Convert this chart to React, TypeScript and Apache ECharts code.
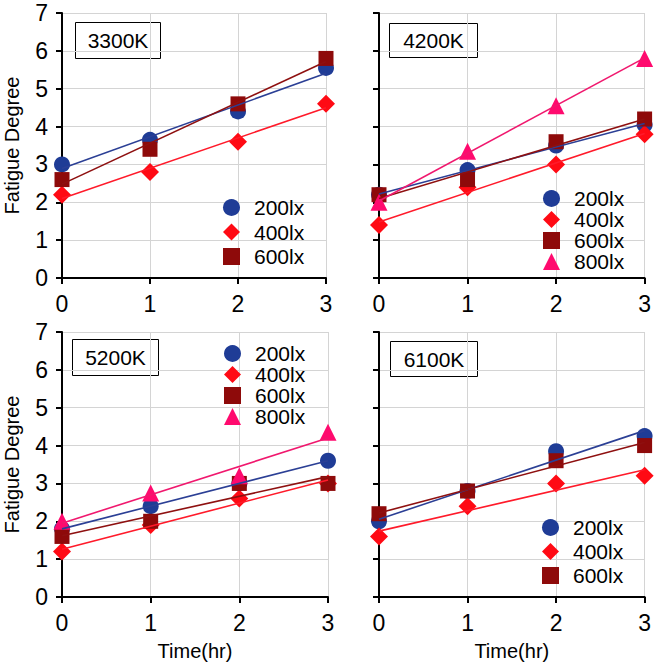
import React, { useEffect, useRef } from "react";
import * as echarts from "echarts";

const hours = [0, 1, 2, 3];
const yTicks = [0, 1, 2, 3, 4, 5, 6, 7];
const panelTitles = ["3300K", "4200K", "5200K", "6100K"];
const seriesNames = ["200lx", "400lx", "600lx", "800lx"];

const k3300_200 = [3.0, 3.65, 4.4, 5.55];
const k3300_400 = [2.2, 2.8, 3.6, 4.6];
const k3300_600 = [2.6, 3.4, 4.6, 5.8];

const k4200_200 = [2.2, 2.85, 3.5, 4.05];
const k4200_400 = [1.4, 2.4, 3.0, 3.8];
const k4200_600 = [2.2, 2.6, 3.6, 4.2];
const k4200_800 = [2.0, 3.35, 4.55, 5.8];

const k5200_200 = [1.8, 2.4, 3.0, 3.6];
const k5200_400 = [1.2, 1.9, 2.6, 3.0];
const k5200_600 = [1.6, 2.0, 3.0, 3.0];
const k5200_800 = [2.0, 2.75, 3.2, 4.35];

const k6100_200 = [2.0, 2.8, 3.85, 4.25];
const k6100_400 = [1.6, 2.4, 3.0, 3.2];
const k6100_600 = [2.2, 2.8, 3.6, 4.0];

const panelData: (number[] | null)[][] = [
  [k3300_200, k3300_400, k3300_600, null],
  [k4200_200, k4200_400, k4200_600, k4200_800],
  [k5200_200, k5200_400, k5200_600, k5200_800],
  [k6100_200, k6100_400, k6100_600, null],
];

const markerColors = ["#1F3C96", "#FF0A14", "#8E0A0A", "#FF0A6E"];
const lineColors = ["#2B3F95", "#FF1A2A", "#8E1010", "#F0186E"];
const symbols = ["circle", "diamond", "rect", "triangle"];
const symbolSizes = [16, 18, 15, 17];

const FONT = "'Liberation Sans', Arial, sans-serif";

function linearFit(xs: number[], ys: number[]) {
  const n = xs.length;
  const mx = xs.reduce((a, b) => a + b, 0) / n;
  const my = ys.reduce((a, b) => a + b, 0) / n;
  let num = 0;
  let den = 0;
  for (let i = 0; i < n; i++) {
    num += (xs[i] - mx) * (ys[i] - my);
    den += (xs[i] - mx) * (xs[i] - mx);
  }
  const m = num / den;
  return { m, b: my - m * mx };
}

const grids = [
  { left: 62, top: 13, width: 264, height: 265 },
  { left: 379, top: 13, width: 266, height: 265 },
  { left: 62, top: 332, width: 266, height: 265 },
  { left: 379, top: 332, width: 266, height: 265 },
];

const boxes = [
  { x: 75, y: 22, w: 85, h: 36 },
  { x: 389, y: 23, w: 88, h: 34 },
  { x: 72, y: 339, w: 86, h: 36 },
  { x: 390, y: 341, w: 87, h: 35 },
];

const legendPos = [
  { left: 223, top: 197, gap: 3.5 },
  { left: 543, top: 188, gap: 0 },
  { left: 224, top: 343, gap: 0 },
  { left: 542, top: 517, gap: 3 },
];

export default function App() {
  const ref = useRef<HTMLDivElement>(null);
  useEffect(() => {
    document.body.style.margin = "0";
    if (!ref.current) return;
    const chart = echarts.init(ref.current, undefined, { renderer: "svg" });

    const xAxis: any[] = [];
    const yAxis: any[] = [];
    const series: any[] = [];
    const legends: any[] = [];
    const graphic: any[] = [];

    grids.forEach((g, p) => {
      const isLeft = p % 2 === 0;
      const isBottom = p >= 2;
      xAxis.push({
        type: "value",
        gridIndex: p,
        min: 0,
        max: 3,
        interval: 1,
        name: isBottom ? "Time(hr)" : "",
        nameLocation: "middle",
        nameGap: 44,
        nameTextStyle: { fontSize: 20, color: "#000", fontFamily: FONT },
        axisLine: { show: true, onZero: false, lineStyle: { color: "#000", width: 2 } },
        axisTick: { show: true, length: 6, lineStyle: { color: "#000", width: 2 } },
        axisLabel: { fontSize: 23, color: "#000", fontFamily: FONT, margin: 14 },
        splitLine: { show: true, lineStyle: { color: "#D4D4D4", width: 1 } },
      });
      yAxis.push({
        type: "value",
        gridIndex: p,
        min: yTicks[0],
        max: yTicks[yTicks.length - 1],
        interval: 1,
        name: isLeft ? "Fatigue Degree" : "",
        nameLocation: "middle",
        nameGap: 40,
        nameTextStyle: { fontSize: 20, color: "#000", fontFamily: FONT },
        axisLine: { show: true, onZero: false, lineStyle: { color: "#000", width: 2 } },
        axisTick: { show: true, length: 6, lineStyle: { color: "#000", width: 2 } },
        axisLabel: { show: isLeft, fontSize: 23, color: "#000", fontFamily: FONT, margin: 14 },
        splitLine: { show: true, lineStyle: { color: "#D4D4D4", width: 1 } },
      });

      const present: string[] = [];
      panelData[p].forEach((vals, s) => {
        if (!vals) return;
        present.push(seriesNames[s]);
        series.push({
          type: "scatter",
          name: seriesNames[s],
          xAxisIndex: p,
          yAxisIndex: p,
          symbol: symbols[s],
          symbolSize: symbolSizes[s],
          itemStyle: { color: markerColors[s], opacity: 1 },
          z: 3 + s,
          data: hours.map((h, i) => [h, vals[i]]),
        });
      });
      panelData[p].forEach((vals, s) => {
        if (!vals) return;
        const { m, b } = linearFit(hours, vals);
        const x0 = hours[0];
        const x1 = hours[hours.length - 1];
        series.push({
          type: "line",
          name: "fit " + seriesNames[s] + " " + panelTitles[p],
          xAxisIndex: p,
          yAxisIndex: p,
          showSymbol: false,
          symbol: "none",
          lineStyle: { color: lineColors[s], width: 1.6 },
          z: 10,
          silent: true,
          data: [
            [x0, b + m * x0],
            [x1, b + m * x1],
          ],
        });
      });

      legends.push({
        orient: "vertical",
        left: legendPos[p].left,
        top: legendPos[p].top,
        itemWidth: 17,
        itemHeight: 17,
        itemGap: legendPos[p].gap,
        padding: 0,
        selectedMode: false,
        itemStyle: { opacity: 1 },
        textStyle: {
          fontSize: 21,
          color: "#000",
          fontFamily: FONT,
          padding: [0, 0, 0, 9],
        },
        data: present,
      });

      const bx = boxes[p];
      graphic.push({
        type: "group",
        left: bx.x,
        top: bx.y,
        z: 20,
        children: [
          {
            type: "rect",
            shape: { x: 0, y: 0, width: bx.w, height: bx.h },
            style: { fill: "#fff", stroke: "#000", lineWidth: 1 },
          },
          {
            type: "text",
            x: bx.w / 2,
            y: bx.h / 2,
            style: {
              text: panelTitles[p],
              fontSize: 21,
              fontFamily: FONT,
              fill: "#000",
              align: "center",
              verticalAlign: "middle",
            },
          },
        ],
      });
    });

    chart.setOption({
      animation: false,
      backgroundColor: "#fff",
      grid: grids.map((g) => ({ ...g, containLabel: false })),
      xAxis,
      yAxis,
      legend: legends,
      series,
      graphic,
    });
    return () => chart.dispose();
  }, []);
  return <div ref={ref} style={{ width: 654, height: 664 }} />;
}
